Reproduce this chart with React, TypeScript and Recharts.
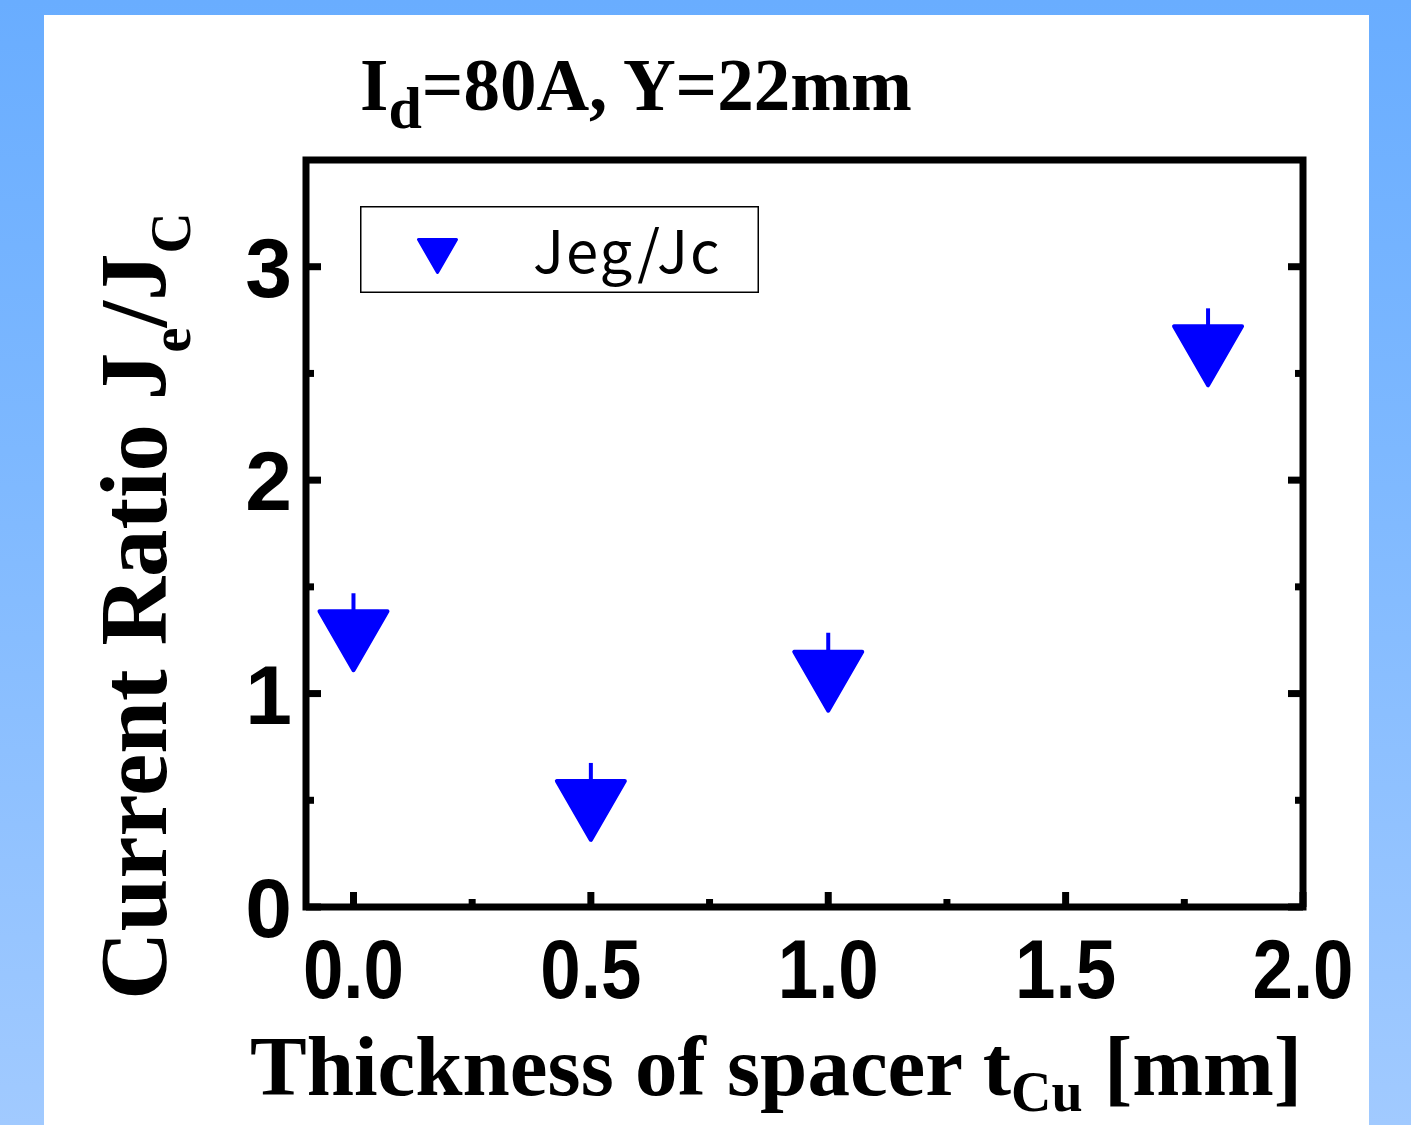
import React from 'react';
import {
  ScatterChart,
  Scatter,
  XAxis,
  YAxis,
  ErrorBar,
  ReferenceArea,
  Legend
} from 'recharts';

// values
const thickness = [0.0, 0.5, 1.0, 1.8];
const currentRatio = [1.25, 0.455, 1.06, 2.585];
const ratioErrUp = [0.22, 0.22, 0.225, 0.22];

const xTicks = [0, 0.25, 0.5, 0.75, 1.0, 1.25, 1.5, 1.75, 2.0];
const yTicks = [0, 0.5, 1, 1.5, 2, 2.5, 3];
const xDomain = [-0.1, 2.0];
const yDomain = [0, 3.5];

const seriesName = 'Jeg/Jc';

const W = 1411;
const H = 1125;
const PLOT = { left: 306, top: 160, right: 1303, bottom: 907 };
const BLUE = '#0000ff';
const SERIF = '"Liberation Serif", "Times New Roman", serif';
const SANS = '"Liberation Sans", Arial, sans-serif';

const points = thickness.map((x, i) => ({
  x,
  y: currentRatio[i],
  err: [0, ratioErrUp[i]]
}));

const isMajorX = (v: number) => Math.abs(v * 2 - Math.round(v * 2)) < 1e-6;
const isMajorY = (v: number) => Math.abs(v - Math.round(v)) < 1e-6;

const MAJOR = 15;
const MINOR = 8;

const BottomTick = (props: any) => {
  const { x, y, payload } = props;
  const v = payload.value;
  const major = isMajorX(v);
  return (
    <g>
      <line x1={x} y1={y} x2={x} y2={y - (major ? MAJOR : MINOR)} stroke="#000" strokeWidth={7} />
      {major && (
        <text
          x={x}
          y={y + 91}
          textAnchor="middle"
          fontFamily={SANS}
          fontWeight="bold"
          fontSize={84}
          fill="#000"
          textLength={101}
          lengthAdjust="spacingAndGlyphs"
        >
          {v.toFixed(1)}
        </text>
      )}
    </g>
  );
};

const TopTick = (props: any) => {
  const { x, y, payload } = props;
  const major = isMajorX(payload.value);
  return <line x1={x} y1={y} x2={x} y2={y + (major ? MAJOR : MINOR)} stroke="#000" strokeWidth={7} />;
};

const LeftTick = (props: any) => {
  const { x, y, payload } = props;
  const v = payload.value;
  const major = isMajorY(v);
  return (
    <g>
      <line x1={x} y1={y} x2={x + (major ? MAJOR : MINOR)} y2={y} stroke="#000" strokeWidth={7} />
      {major && (
        <text
          x={x - 14}
          y={y + 30}
          textAnchor="end"
          fontFamily={SANS}
          fontWeight="bold"
          fontSize={84}
          fill="#000"
        >
          {String(v)}
        </text>
      )}
    </g>
  );
};

const RightTick = (props: any) => {
  const { x, y, payload } = props;
  const major = isMajorY(payload.value);
  return <line x1={x} y1={y} x2={x - (major ? MAJOR : MINOR)} y2={y} stroke="#000" strokeWidth={7} />;
};

// downward triangle marker, centred on the data point
const DownTriangle = (props: any) => {
  const { cx, cy } = props;
  if (cx == null || cy == null) return null;
  const pts = `${cx - 34},${cy - 29} ${cx + 34},${cy - 29} ${cx},${cy + 30}`;
  return <polygon points={pts} fill={BLUE} stroke={BLUE} strokeWidth={4} strokeLinejoin="round" />;
};

const renderLegend = () => (
  <svg width={399} height={87} style={{ display: 'block', overflow: 'visible' }}>
    <rect x={0.75} y={0.75} width={397.5} height={85.5} fill="#fff" stroke="#000" strokeWidth={1.5} />
    <polygon
      points="58.5,33.5 96.5,33.5 77.5,66.5"
      fill={BLUE}
      stroke={BLUE}
      strokeWidth={3}
      strokeLinejoin="round"
    />
    <text
      x={173}
      y={67}
      fontFamily='"Noto Sans CJK JP", "Noto Sans", sans-serif'
      fontSize={58}
      letterSpacing={2}
      fill="#000"
    >
      {seriesName}
    </text>
  </svg>
);

const XTitle = () => (
  <text x={250} y={1095} fontFamily={SERIF} fontWeight="bold" fontSize={85} fill="#000">
    Thickness of spacer t
    <tspan fontSize={56} dy={16}>Cu</tspan>
    <tspan dy={-16}> [mm]</tspan>
  </text>
);

const YTitle = () => (
  <text
    transform="translate(166,1000) rotate(-90)"
    x={0}
    y={0}
    fontFamily={SERIF}
    fontWeight="bold"
    fontSize={95}
    fill="#000"
  >
    Current Ratio J
    <tspan fontSize={57} dy={24}>e</tspan>
    <tspan dy={-24}>/J</tspan>
    <tspan fontSize={57} dy={24}>C</tspan>
  </text>
);

export default function App() {
  const topAxisH = 10;
  const rightAxisW = 10;
  const xAxisH = 100;
  const yAxisW = 100;

  return (
    <div
      style={{
        position: 'absolute',
        left: 0,
        top: 0,
        width: W,
        height: H,
        overflow: 'hidden',
        background: 'linear-gradient(to bottom, #69adff 0%, #7db8ff 40%, #a1caff 100%)'
      }}
    >
      <div style={{ position: 'absolute', left: 44, top: 15, width: 1325, height: H - 15, background: '#fff' }} />
      <div style={{ position: 'absolute', left: 0, top: 0 }}>
        <ScatterChart
          width={W}
          height={H}
          margin={{
            top: PLOT.top - topAxisH,
            left: PLOT.left - yAxisW,
            right: W - PLOT.right - rightAxisW,
            bottom: H - PLOT.bottom - xAxisH
          }}
        >
          <XAxis
            type="number"
            dataKey="x"
            domain={xDomain}
            ticks={xTicks}
            interval={0}
            allowDataOverflow
            height={xAxisH}
            axisLine={false}
            tickLine={false}
            tickSize={0}
            tickMargin={0}
            tick={<BottomTick />}
          />
          <XAxis
            xAxisId="top"
            orientation="top"
            type="number"
            domain={xDomain}
            ticks={xTicks}
            interval={0}
            allowDataOverflow
            height={topAxisH}
            axisLine={false}
            tickLine={false}
            tickSize={0}
            tickMargin={0}
            tick={<TopTick />}
          />
          <YAxis
            type="number"
            dataKey="y"
            domain={yDomain}
            ticks={yTicks}
            interval={0}
            allowDataOverflow
            width={yAxisW}
            axisLine={false}
            tickLine={false}
            tickSize={0}
            tickMargin={0}
            tick={<LeftTick />}
          />
          <YAxis
            yAxisId="right"
            orientation="right"
            type="number"
            domain={yDomain}
            ticks={yTicks}
            interval={0}
            allowDataOverflow
            width={rightAxisW}
            axisLine={false}
            tickLine={false}
            tickSize={0}
            tickMargin={0}
            tick={<RightTick />}
          />
          <ReferenceArea
            x1={xDomain[0]}
            x2={xDomain[1]}
            y1={yDomain[0]}
            y2={yDomain[1]}
            fill="none"
            fillOpacity={0}
            stroke="#000"
            strokeWidth={7}
            ifOverflow="visible"
          />
          <Legend
            layout="vertical"
            align="center"
            verticalAlign="middle"
            content={renderLegend}
            wrapperStyle={{ left: 360, top: 206, width: 399, height: 87 }}
          />
          <Scatter
            name={seriesName}
            data={points}
            fill={BLUE}
            shape={<DownTriangle />}
            isAnimationActive={false}
          >
            <ErrorBar dataKey="err" direction="y" width={0} stroke={BLUE} strokeWidth={4} isAnimationActive={false} />
          </Scatter>
        </ScatterChart>
      </div>
      <svg width={W} height={H} style={{ position: 'absolute', left: 0, top: 0, pointerEvents: 'none' }}>
        <text x={360} y={110} fontFamily={SERIF} fontWeight="bold" fontSize={73} fill="#000">
          I
          <tspan fontSize={60} dy={18}>d</tspan>
          <tspan dy={-18}>=80A, Y=22mm</tspan>
        </text>
        <XTitle />
        <YTitle />
      </svg>
    </div>
  );
}
